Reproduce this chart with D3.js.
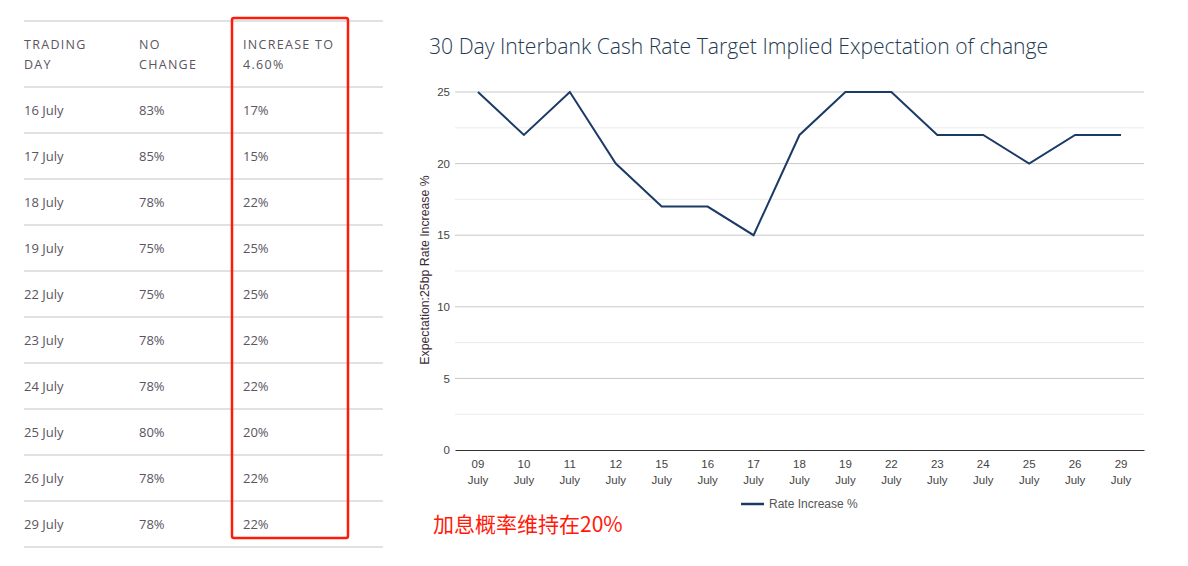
<!DOCTYPE html>
<html><head><meta charset="utf-8">
<script src="https://cdn.jsdelivr.net/npm/d3@7"></script>
<style>
body{margin:0;background:#fff;}
svg{display:block;}
</style></head>
<body>
<svg id="c" width="1188" height="566"></svg>
<script>
// Table data
const tableHeaders = [["TRADING","DAY"],["NO","CHANGE"],["INCREASE TO","4.60%"]];
const tableDays = ["16 July","17 July","18 July","19 July","22 July","23 July","24 July","25 July","26 July","29 July"];
const tableNoChange = ["83%","85%","78%","75%","75%","78%","78%","80%","78%","78%"];
const tableIncrease = ["17%","15%","22%","25%","25%","22%","22%","20%","22%","22%"];

// Chart data
const chartTitle = "30 Day Interbank Cash Rate Target Implied Expectation of change";
const dayNums = ["09","10","11","12","15","16","17","18","19","22","23","24","25","26","29"];
const monthLabel = "July";
const rateIncrease = [25,22,25,20,17,17,15,22,25,25,22,22,20,22,22];
const yTicks = [0,5,10,15,20,25];
const yMinor = [2.5,7.5,12.5,17.5,22.5];
const seriesName = "Rate Increase %";
const yTitle = "Expectation:25bp Rate Increase %";
const note = "加息概率维持在20%";

(function(){
const svg = d3.select("#c");

// ---------- Table ----------
const tX = 24, tW = 359;
const colX = [24, 139, 243];
const rowScale = d3.scaleLinear().domain([0, tableDays.length]).range([87, 547]);
const tg = svg.append("g");
const lineYs = [21].concat(d3.range(tableDays.length + 1).map(i => rowScale(i)));
tg.selectAll("line.r").data(lineYs).join("line")
  .attr("x1", tX).attr("x2", tX + tW).attr("y1", d => d).attr("y2", d => d)
  .attr("stroke", "#dfe2e5").attr("stroke-width", 2);
tableHeaders.forEach((h, ci) => {
  h.forEach((t, li) => {
    tg.append("text").attr("x", colX[ci]).attr("y", 49 + li * 20)
      .text(t).attr("font-family", "Open Sans, sans-serif").attr("font-size", 12.5)
      .attr("letter-spacing", 1.3).attr("fill", "#5a5560");
  });
});
const cols = [tableDays, tableNoChange, tableIncrease];
cols.forEach((col, ci) => {
  tg.selectAll("text.c" + ci).data(col).join("text").attr("class", "c" + ci)
    .attr("x", colX[ci]).attr("y", (d, i) => (rowScale(i) + rowScale(i + 1)) / 2 + 5)
    .text(d => d).attr("font-family", "Open Sans, sans-serif").attr("font-size", 13)
    .attr("fill", "#5a5560");
});
tg.append("rect").attr("x", 232).attr("y", 18).attr("width", 116).attr("height", 520)
  .attr("rx", 2).attr("fill", "none").attr("stroke", "#ff1a0a").attr("stroke-width", 2.5);

// ---------- Chart ----------
svg.append("text").attr("x", 429).attr("y", 54).text(chartTitle)
  .attr("font-family", "Open Sans, sans-serif").attr("font-size", 21.15)
  .attr("font-weight", 300).attr("fill", "#253a52");

const pl = 455, pr = 1144, pt = 92, pb = 450;
const x = d3.scaleBand().domain(dayNums).range([pl, pr]);
const y = d3.scaleLinear().domain([0, 25]).range([pb, pt]);

const g = svg.append("g");
g.selectAll("line.mn").data(yMinor).join("line").attr("class", "mn")
  .attr("x1", pl).attr("x2", pr).attr("y1", d => y(d)).attr("y2", d => y(d))
  .attr("stroke", "#ebebeb").attr("stroke-width", 1);
g.selectAll("line.mj").data(yTicks.filter(d => d > 0)).join("line").attr("class", "mj")
  .attr("x1", pl).attr("x2", pr).attr("y1", d => y(d)).attr("y2", d => y(d))
  .attr("stroke", "#c8c8c8").attr("stroke-width", 1);

const yAxis = d3.axisLeft(y).tickValues(yTicks).tickSize(0).tickPadding(5);
const ya = g.append("g").attr("transform", `translate(${pl},0)`).call(yAxis);
ya.select(".domain").remove();
ya.selectAll("text").attr("font-family", "Liberation Sans, Arial, sans-serif")
  .attr("font-size", 11.5).attr("fill", "#444");

const xAxis = d3.axisBottom(x).tickSize(0).tickPadding(8).tickFormat(() => "");
const xa = g.append("g").attr("transform", `translate(0,${pb})`).call(xAxis);
xa.select(".domain").attr("stroke", "#333").attr("stroke-width", 1.2);
xa.selectAll(".tick").each(function(d) {
  const t = d3.select(this).select("text");
  t.attr("font-family", "Liberation Sans, Arial, sans-serif").attr("font-size", 11.5)
    .attr("fill", "#444").attr("dy", null);
  t.append("tspan").attr("x", 0).attr("y", 18).text(d);
  t.append("tspan").attr("x", 0).attr("y", 34).text(monthLabel);
});

svg.append("text").attr("transform", `translate(429,${(pt + pb) / 2 - 1}) rotate(-90)`)
  .attr("text-anchor", "middle").text(yTitle)
  .attr("font-family", "Liberation Sans, Arial, sans-serif").attr("font-size", 12.3)
  .attr("fill", "#3a2a35");

const line = d3.line().x((d, i) => x(dayNums[i]) + x.bandwidth() / 2).y(d => y(d));
g.append("path").datum(rateIncrease).attr("d", line)
  .attr("fill", "none").attr("stroke", "#1b3b66").attr("stroke-width", 2)
  .attr("stroke-linejoin", "miter");

const lg = svg.append("g").attr("transform", "translate(741,504)");
lg.append("line").attr("x1", 0).attr("x2", 23).attr("y1", 0).attr("y2", 0)
  .attr("stroke", "#1b3b66").attr("stroke-width", 2.5);
lg.append("text").attr("x", 28).attr("y", 4).text(seriesName)
  .attr("font-family", "Liberation Sans, Arial, sans-serif").attr("font-size", 12)
  .attr("fill", "#555");

svg.append("text").attr("x", 433).attr("y", 532).text(note)
  .attr("font-family", "Noto Sans CJK SC, sans-serif").attr("font-size", 21)
  .attr("fill", "#ff1a0a");
})();
</script>
</body></html>
